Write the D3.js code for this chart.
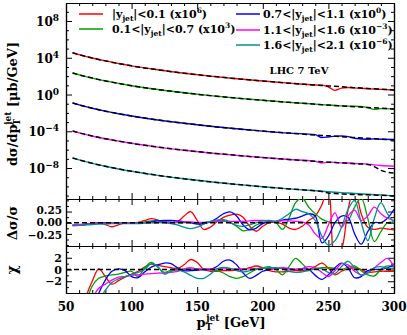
<!DOCTYPE html>
<html>
<head>
<meta charset="utf-8">
<script src="https://cdn.jsdelivr.net/npm/d3@7"></script>
<style>
  body { margin: 0; background: #fff; }
  svg { display: block; }
  text { font-family: "DejaVu Serif", serif; font-weight: bold; fill: #000; }
</style>
</head>
<body>
<div id="chart"></div>
<script>
// ---- data ----
var colors = ["#ff0000", "#00a000", "#0000ff", "#ff00ff", "#00908f"];
var rapLo = [null, "0.1", "0.7", "1.1", "1.6"];
var rapHi = ["0.1", "0.7", "1.1", "1.6", "2.1"];
var scalePow = ["6", "3", "0", "\u22123", "\u22126"];

// top panel: log10 of dsigma/dpT (scaled), fit curves and dashed reference
var topPt = [55,60,70,80,90,100,120,140,160,180,200,220,240,245,250,255,260,265,270,280,285,290,300];
var refLog = [
  [4.55,4.34,3.97,3.66,3.37,3.12,2.69,2.32,2.00,1.72,1.47,1.24,1.03,0.98,0.93,0.89,0.84,0.79,0.75,0.66,0.62,0.58,0.50],
  [2.34,2.14,1.79,1.48,1.21,0.96,0.54,0.19,-0.12,-0.39,-0.63,-0.85,-1.05,-1.10,-1.15,-1.19,-1.24,-1.28,-1.32,-1.41,-1.45,-1.49,-1.57],
  [-0.92,-1.13,-1.49,-1.81,-2.09,-2.34,-2.77,-3.13,-3.45,-3.73,-3.98,-4.20,-4.41,-4.46,-4.50,-4.55,-4.60,-4.64,-4.69,-4.77,-4.81,-4.86,-4.94],
  [-3.97,-4.17,-4.51,-4.81,-5.07,-5.31,-5.72,-6.06,-6.36,-6.62,-6.86,-7.07,-7.27,-7.31,-7.36,-7.40,-7.44,-7.49,-7.53,-7.61,-7.85,-8.25,-8.55],
  [-6.90,-7.11,-7.49,-7.81,-8.10,-8.35,-8.80,-9.17,-9.50,-9.78,-10.04,-10.27,-10.48,-10.55,-10.72,-10.78,-10.82,-10.86,-10.88,-10.92,-10.93,-10.96,-11.03]
];
var fitLog = [
  [4.55,4.34,3.97,3.66,3.37,3.12,2.69,2.32,2.00,1.72,1.47,1.24,1.03,1.02,0.82,0.45,0.70,0.76,0.72,0.63,0.60,0.56,0.49],
  [2.34,2.14,1.79,1.48,1.21,0.96,0.54,0.19,-0.12,-0.39,-0.63,-0.85,-1.05,-1.10,-1.15,-1.19,-1.24,-1.26,-1.28,-1.42,-1.62,-1.53,-1.57],
  [-0.92,-1.13,-1.49,-1.81,-2.09,-2.34,-2.77,-3.13,-3.45,-3.73,-3.98,-4.20,-4.36,-4.68,-4.62,-4.53,-4.52,-4.58,-4.76,-4.86,-4.83,-4.86,-4.90],
  [-3.97,-4.17,-4.51,-4.81,-5.07,-5.31,-5.72,-6.06,-6.36,-6.62,-6.86,-7.07,-7.27,-7.45,-7.36,-7.38,-7.44,-7.46,-7.50,-7.58,-7.66,-7.72,-7.80],
  [-6.90,-7.11,-7.49,-7.81,-8.10,-8.35,-8.80,-9.17,-9.50,-9.78,-10.04,-10.27,-10.48,-10.53,-10.58,-10.63,-10.68,-10.72,-10.77,-10.86,-10.90,-10.94,-11.03]
];

// lower panels: relative difference and chi, every 5 GeV
var pt = [55,60,65,70,75,80,85,90,95,100,105,110,115,120,125,130,135,140,145,150,155,160,165,170,175,
          180,185,190,195,200,205,210,215,220,225,230,235,240,245,250,255,260,265,270,275,280,285,290,295,300];
var ratio = [
  [-0.06,-0.05,-0.04,-0.02,0.00,-0.04,-0.09,-0.05,0.00,0.00, 0.01,0.05,0.09,0.06,0.01,0.00,0.02,0.15,0.25,0.05,
   -0.15,-0.10,0.02,0.12,0.17,0.19,0.12,-0.08,-0.19,-0.08, 0.00,0.01,-0.03,-0.12,-0.15,-0.08,0.05,0.15,0.40,0.80,
   -0.80,-0.60,0.30,0.80,0.20,-0.10,-0.15,-0.12,-0.14,-0.16],
  [-0.06,-0.05,-0.03,-0.02,-0.01,-0.01,0.00,0.00,0.00,0.00, 0.00,0.02,0.04,0.05,0.03,0.01,0.00,0.00,0.00,0.00,
   0.00,0.02,0.05,0.07,0.02,-0.08,-0.18,-0.15,-0.05,0.00, 0.03,0.00,-0.15,0.10,0.45,0.55,0.35,0.20,0.08,0.02,
   0.00,0.00,0.05,0.35,0.55,0.10,-0.42,-0.20,0.00,0.00],
  [-0.06,-0.05,-0.04,-0.02,-0.01,0.00,0.00,0.00,0.00,0.00, -0.01,0.00,0.02,0.04,0.05,0.05,0.04,0.02,0.00,-0.03,
   -0.02,0.02,0.10,0.20,0.24,0.15,-0.05,-0.16,-0.12,-0.02, 0.02,0.03,0.06,0.08,0.10,0.15,0.20,0.15,-0.45,-0.30,
   0.00,0.15,0.12,-0.25,-0.48,-0.20,0.00,0.00,0.10,0.30],
  [-0.05,-0.04,-0.03,-0.02,-0.01,-0.01,0.00,0.00,0.00,0.00, 0.00,0.00,0.00,0.00,0.01,0.01,0.01,0.02,0.02,0.01,
   0.01,0.02,0.03,0.03,0.03,0.03,0.03,0.04,0.05,0.05, 0.04,0.03,0.04,0.04,0.03,0.02,-0.05,-0.25,-0.35,-0.05,
   0.22,-0.10,0.15,0.28,0.05,0.15,0.35,0.20,0.10,0.05],
  [-0.07,-0.06,-0.05,-0.04,-0.03,-0.03,-0.02,-0.02,-0.02,-0.02, -0.02,-0.01,0.00,0.01,0.00,-0.02,-0.05,-0.10,-0.13,-0.10,
   -0.03,0.03,0.06,0.05,0.00,-0.06,-0.08,-0.05,0.00,0.04, 0.05,0.03,0.10,0.20,0.30,0.25,0.20,0.05,-0.30,-0.50,
   -0.40,-0.10,0.30,0.50,0.00,-0.40,0.10,0.45,0.20,0.00]
];
var chi = [
  [-14,-9,-4.8,-2.0,0.1,-1.2,-2.5,-1.9,-1.3,-0.8, -0.3,0.4,0.9,0.7,0.5,0.3,0.2,0.8,1.7,1.2,
   0.0,-0.3,-0.3,-0.2,-0.2,-0.1,0.0,0.3,0.6,0.3, -0.2,-0.4,-0.4,-0.3,-0.2,-0.2,0.0,0.5,1.1,0.2,
   -0.9,-0.3,0.1,0.3,0.0,-0.5,-0.4,-0.3,-0.3,-0.3],
  [-14,-10,-6,-2.8,-1.5,-1.1,-0.9,-0.8,-0.5,-0.3, -1.2,0.3,1.2,0.4,-0.5,-0.1,0.0,0.0,0.0,0.0,
   0.0,0.0,-0.2,-0.6,-1.2,-1.5,-1.2,-0.6,0.0,0.3, 0.5,0.0,-0.9,0.5,1.9,1.0,0.0,0.1,0.3,0.3,
   0.2,0.0,0.4,0.6,-0.2,-0.9,-1.1,0.0,0.6,0.4],
  [-14,-12,-9,-6.5,-4,-1.8,-0.3,0.1,-0.2,-1.2, -1.4,-0.4,0.4,0.8,1.1,1.0,0.3,-0.2,-0.2,-0.1,
   0.0,0.0,0.5,1.4,1.6,0.8,-0.6,-1.5,-1.0,-0.3, 0.0,0.2,0.2,0.1,0.0,0.1,0.0,-1.0,-1.7,-0.9,
   0.3,1.1,0.3,-1.4,-1.2,-0.2,0.0,0.0,0.3,0.8],
  [-14,-11,-8,-5,-3.2,-2.5,-1.8,-1.3,-1.2,-1.0, -0.9,-0.8,-0.7,-0.6,-0.6,-0.5,-0.3,0.1,0.3,0.1,
   0.1,0.1,0.1,0.1,0.1,0.1,0.1,0.1,0.2,0.2, 0.2,0.2,0.3,0.2,0.0,0.2,0.5,0.3,-0.5,-1.2,
   -0.2,1.0,0.8,-0.3,-0.9,-0.5,0.3,1.2,1.9,0.5],
  [-14,-12,-10,-8,-5.5,-3.5,-2.2,-1.6,-1.2,-0.9, -0.5,0.0,1.0,0.5,-0.8,-0.3,-0.1,-0.4,-1.0,-1.5,
   -1.5,-0.8,0.1,0.35,0.2,-0.2,-0.4,-0.2,0.1,0.2, 0.3,0.3,0.1,-0.3,-0.5,-0.4,-0.2,0.2,0.1,-0.5,
   -0.7,0.5,1.4,0.3,-1.0,-0.6,0.3,0.5,0.2,0.2]
];

var xTicks = [50,100,150,200,250,300];
var logTicks = [8,4,0,-4,-8];
var ratioTicks = [-0.25,0,0.25];
var ratioLabels = ["\u22120.25","0.00","0.25"];
var chiTicks = [-2,0,2];
var chiLabels = ["\u22122","0","2"];

// ---- layout ----
var width = 407, height = 335;
var L = 66, R = 394;
var svg = d3.select("#chart").append("svg").attr("width", width).attr("height", height);

var x = d3.scaleLinear().domain([50, 300]).range([L, R]);
var yTop = d3.scaleLog().domain([Math.pow(10, -11.37), Math.pow(10, 9.96)]).range([199, 3]);
var yMid = d3.scaleLinear().domain([-0.52, 0.53]).range([246, 199]);
var yBot = d3.scaleLinear().domain([-4, 4]).range([293, 246]);

function clip(id, y) {
  svg.append("clipPath").attr("id", id).append("rect")
    .attr("x", L).attr("y", y.range()[1]).attr("width", R - L).attr("height", y.range()[0] - y.range()[1]);
}
clip("cTop", yTop); clip("cMid", yMid); clip("cBot", yBot);

function frame(y, majY, minY) {
  var g = svg.append("g").attr("class", "frame");
  var xMinor = d3.range(50, 301, 10).filter(function(v) { return v % 50 != 0; });
  var y0 = y.range()[0], y1 = y.range()[1];
  [[d3.axisBottom, y0], [d3.axisTop, y1]].forEach(function(a) {
    g.append("g").attr("transform", "translate(0," + a[1] + ")")
      .call(a[0](x).tickValues(xTicks).tickSize(-6).tickSizeOuter(0).tickFormat(""));
    g.append("g").attr("transform", "translate(0," + a[1] + ")")
      .call(a[0](x).tickValues(xMinor).tickSize(-3).tickSizeOuter(0).tickFormat(""));
  });
  [[d3.axisLeft, L], [d3.axisRight, R]].forEach(function(a) {
    g.append("g").attr("transform", "translate(" + a[1] + ",0)")
      .call(a[0](y).tickValues(majY).tickSize(-6).tickSizeOuter(0).tickFormat(""));
    g.append("g").attr("transform", "translate(" + a[1] + ",0)")
      .call(a[0](y).tickValues(minY).tickSize(-3).tickSizeOuter(0).tickFormat(""));
  });
  g.selectAll("path.domain").attr("stroke", "#000").attr("stroke-width", 1.2);
  g.selectAll(".tick line").attr("stroke", "#000").attr("stroke-width", 1);
}

var decMinor = d3.range(-11, 10).filter(function(e) { return e % 4 != 0; }).map(function(e) { return Math.pow(10, e); });
frame(yTop, logTicks.map(function(e) { return Math.pow(10, e); }), decMinor);
frame(yMid, ratioTicks, [-0.5, -0.375, -0.125, 0.125, 0.375, 0.5]);
frame(yBot, chiTicks, [-3, -1, 1, 3]);

var lineTop = d3.line()
  .x(function(d) { return x(d[0]); })
  .y(function(d) { return yTop(Math.pow(10, d[1])); })
  .curve(d3.curveMonotoneX);

var gTop = svg.append("g").attr("clip-path", "url(#cTop)");
fitLog.forEach(function(s, i) {
  gTop.append("path").datum(topPt.map(function(p, j) { return [p, s[j]]; }))
    .attr("d", lineTop).attr("fill", "none").attr("stroke", colors[i]).attr("stroke-width", 1.4);
});
refLog.forEach(function(s) {
  gTop.append("path").datum(topPt.map(function(p, j) { return [p, s[j]]; }))
    .attr("d", lineTop).attr("fill", "none").attr("stroke", "#000").attr("stroke-width", 1.5)
    .attr("stroke-dasharray", "5,3");
});

function lowerPanel(id, y, series) {
  var g = svg.append("g").attr("clip-path", "url(#" + id + ")");
  var line = d3.line()
    .x(function(d) { return x(d[0]); })
    .y(function(d) { return y(d[1]); })
    .curve(d3.curveCatmullRom.alpha(0.5));
  series.forEach(function(s, i) {
    g.append("path").datum(pt.map(function(p, j) { return [p, s[j]]; }))
      .attr("d", line).attr("fill", "none").attr("stroke", colors[i]).attr("stroke-width", 1.3);
  });
  g.append("line").attr("x1", L).attr("x2", R).attr("y1", y(0)).attr("y2", y(0))
    .attr("stroke", "#000").attr("stroke-width", 1.5).attr("stroke-dasharray", "5,3");
}
lowerPanel("cMid", yMid, ratio);
lowerPanel("cBot", yBot, chi);

// tick labels
svg.append("g").selectAll("text").data(xTicks).enter().append("text")
  .attr("x", function(d) { return x(d); }).attr("y", 311)
  .attr("text-anchor", "middle").attr("font-size", 12).text(function(d) { return d; });

var tl = svg.append("g").selectAll("text").data(logTicks).enter().append("text")
  .attr("x", 59).attr("y", function(d) { return yTop(Math.pow(10, d)) + 5; })
  .attr("text-anchor", "end").attr("font-size", 12);
tl.append("tspan").text("10");
tl.append("tspan").attr("dy", -5).attr("font-size", 9)
  .text(function(d) { return d < 0 ? "\u2212" + (-d) : d; });

// tightly stacked labels: nudge the outer two apart a little
svg.append("g").selectAll("text").data(ratioTicks).enter().append("text")
  .attr("x", 62).attr("y", function(d) { return yMid(d) + 3.5 - Math.sign(d) * 1.2; })
  .attr("text-anchor", "end").attr("font-size", 10.5)
  .text(function(d, i) { return ratioLabels[i]; });

svg.append("g").selectAll("text").data(chiTicks).enter().append("text")
  .attr("x", 62).attr("y", function(d) { return yBot(d) + 4; })
  .attr("text-anchor", "end").attr("font-size", 11)
  .text(function(d, i) { return chiLabels[i]; });

// axis titles
var t1 = svg.append("text").attr("transform", "translate(17,104) rotate(-90)")
  .attr("text-anchor", "middle").attr("font-size", 13);
t1.append("tspan").text("d\u03c3/dp");
t1.append("tspan").attr("font-size", 9).attr("dy", 3).attr("dx", -1).text("T");
t1.append("tspan").attr("font-size", 9).attr("dy", -9).attr("dx", -6).text("jet");
t1.append("tspan").attr("dy", 6).text(" [\u03bcb/GeV]");

svg.append("text").attr("transform", "translate(17,223) rotate(-90)")
  .attr("text-anchor", "middle").attr("font-size", 13).text("\u0394\u03c3/\u03c3");
svg.append("text").attr("transform", "translate(17,270) rotate(-90)")
  .attr("text-anchor", "middle").attr("font-size", 14).text("\u03c7");

var t2 = svg.append("text").attr("x", 231).attr("y", 327).attr("text-anchor", "middle").attr("font-size", 13);
t2.append("tspan").text("p");
t2.append("tspan").attr("font-size", 9).attr("dy", 3).text("T");
t2.append("tspan").attr("font-size", 9).attr("dy", -9).attr("dx", -6).text("jet");
t2.append("tspan").attr("dy", 6).text(" [GeV]");

svg.append("text").attr("x", 299).attr("y", 74).attr("text-anchor", "middle")
  .attr("font-size", 10).text("LHC 7 TeV");

// legend
var legX = [79, 79, 236, 236, 236];
var legY = [14, 29, 14, 30, 45];
colors.forEach(function(c, i) {
  svg.append("line").attr("x1", legX[i]).attr("x2", legX[i] + 24)
    .attr("y1", legY[i]).attr("y2", legY[i]).attr("stroke", c).attr("stroke-width", 1.5);
  var t = svg.append("text").attr("x", legX[i] + (i < 2 ? 33 : 27)).attr("y", legY[i] + 4).attr("font-size", 11);
  t.append("tspan").text((rapLo[i] ? rapLo[i] + "<" : "") + "|y");
  t.append("tspan").attr("font-size", 7.5).attr("dy", 3).text("jet");
  t.append("tspan").attr("dy", -3).text("|<" + rapHi[i] + " (x10");
  t.append("tspan").attr("font-size", 7.5).attr("dy", -5).text(scalePow[i]);
  t.append("tspan").attr("dy", 5).text(")");
});
</script>
</body>
</html>
